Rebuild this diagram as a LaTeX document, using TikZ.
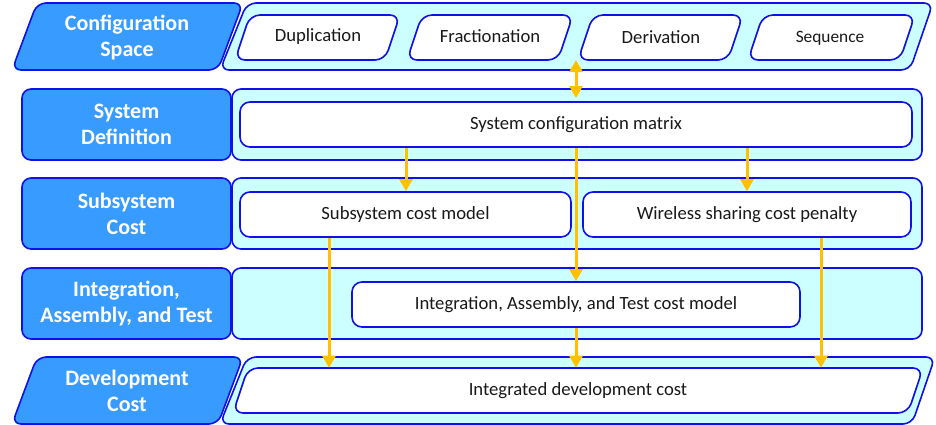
\documentclass[tikz,border=0pt]{standalone}
\usepackage{fontspec}
\setmainfont{Carlito}
\usetikzlibrary{arrows.meta,calc}
\newdimen\pxd
\pxd=0.75pt
\definecolor{edgeblue}{RGB}{16,16,232}
\definecolor{labfill}{RGB}{55,155,255}
\definecolor{bandfill}{RGB}{204,255,255}
\definecolor{flow}{RGB}{255,192,0}
\definecolor{ink}{RGB}{25,25,25}
\tikzset{
  lab/.style={draw=edgeblue, line width=1.6\pxd, fill=labfill, rounded corners=9\pxd},
  band/.style={draw=edgeblue, line width=1.6\pxd, fill=bandfill, rounded corners=9\pxd},
  inner/.style={draw=edgeblue, line width=1.6\pxd, fill=white, rounded corners=10\pxd},
  labtxt/.style={text=white, font=\fontsize{16.5}{19.5}\selectfont\bfseries, align=center, inner sep=0pt},
  boxtxt/.style={text=ink, font=\fontsize{14}{17}\selectfont, inner sep=0pt},
  inbox/.style={inner, rectangle, minimum height=45\pxd, text=ink, font=\fontsize{14}{17}\selectfont},
  labbox/.style={lab, rectangle, minimum width=209\pxd, minimum height=71\pxd},
  bandbox/.style={band, rectangle, minimum width=690\pxd, minimum height=71\pxd},
  arr/.style={draw=flow, line width=2.25pt, -{Triangle[width=9.75pt,length=9pt]}},
  arrboth/.style={draw=flow, line width=2.25pt, {Triangle[width=9.75pt,length=9pt]}-{Triangle[width=9.75pt,length=9pt]}},
}
\begin{document}
\begin{tikzpicture}[x=0.75pt, y=-0.75pt]
\useasboundingbox (0,0) rectangle (936,425);

% ---- Configuration space row (slanted) ----
\draw[lab]  (12,70) -- (37,3) -- (243,3) -- (218,70) -- cycle;
\draw[band] (220,70) -- (247,3) -- (933,3) -- (910,70) -- cycle;
\draw[inner] (235,60) -- (250,15) -- (400,15) -- (385,60) -- cycle;
\draw[inner] (407,60) -- (422,15) -- (573,15) -- (558,60) -- cycle;
\draw[inner] (578,60) -- (593,15) -- (743,15) -- (728,60) -- cycle;
\draw[inner] (748,60) -- (763,15) -- (915,15) -- (900,60) -- cycle;
\node[labtxt] (cfgl) at (127,37) {Configuration\\Space};
\node[boxtxt] (dup) at (318,37) {Duplication};
\node[boxtxt] (frac) at (490,36) {Fractionation};
\node[boxtxt] (der) at (661,37) {Derivation};
\node[boxtxt, font=\fontsize{13}{16}\selectfont] (seq) at (830,38) {Sequence};
\coordinate (cfgb) at (576,60);
\coordinate (sdt) at (576,98);

% ---- System definition row ----
\node[labbox] (sdl) at (126.5,124.5) {};
\node[labtxt] at (sdl) {System\\Definition};
\node[bandbox] (sdb) at (577,124.5) {};
\node[inbox, minimum width=672\pxd] (mat) at (576,124.5) {System configuration matrix};

% ---- Subsystem cost row ----
\node[labbox] (scl) at (126.5,213.5) {};
\node[labtxt] at (scl) {Subsystem\\Cost};
\node[bandbox] (scb) at (577,213.5) {};
\node[inbox, minimum width=331\pxd] (sub) at (405.5,214.5) {Subsystem cost model};
\node[inbox, minimum width=328\pxd] (wsp) at (747,214.5) {Wireless sharing cost penalty};

% ---- Integration, assembly and test row ----
\node[labbox] (iatl) at (126.5,303.5) {};
\node[labtxt] at (iatl) {Integration,\\Assembly, and Test};
\node[bandbox] (iatb) at (577,303.5) {};
\node[inbox, minimum width=448\pxd] (iat) at (576,304.5) {Integration, Assembly, and Test cost model};

% ---- Development cost row (slanted) ----
\draw[lab]  (12,424) -- (37,357) -- (243,357) -- (218,424) -- cycle;
\draw[band] (220,424) -- (247,357) -- (935,357) -- (912,424) -- cycle;
\draw[inner] (233,413) -- (248,368) -- (923,368) -- (908,413) -- cycle;
\node[labtxt] (devl) at (127,391) {Development\\Cost};
\node[boxtxt, minimum width=660\pxd, minimum height=45\pxd] (idc) at (578,390.5) {Integrated development cost};

% ---- Flow arrows ----
\coordinate (xa) at (329,0);
\coordinate (xb) at (406,0);
\coordinate (xc) at (576,0);
\coordinate (xd) at (747,0);
\coordinate (xe) at (821,0);
\draw[arrboth] (cfgb) -- (sdt);
\draw[arr] (mat.south -| xb) -- (sub.north -| xb);
\draw[arr] (mat.south -| xc) -- (iat.north -| xc);
\draw[arr] (mat.south -| xd) -- (wsp.north -| xd);
\draw[arr] (sub.south -| xa) -- (idc.north -| xa);
\draw[arr] (iat.south -| xc) -- (idc.north -| xc);
\draw[arr] (wsp.south -| xe) -- (idc.north -| xe);
\end{tikzpicture}
\end{document}
